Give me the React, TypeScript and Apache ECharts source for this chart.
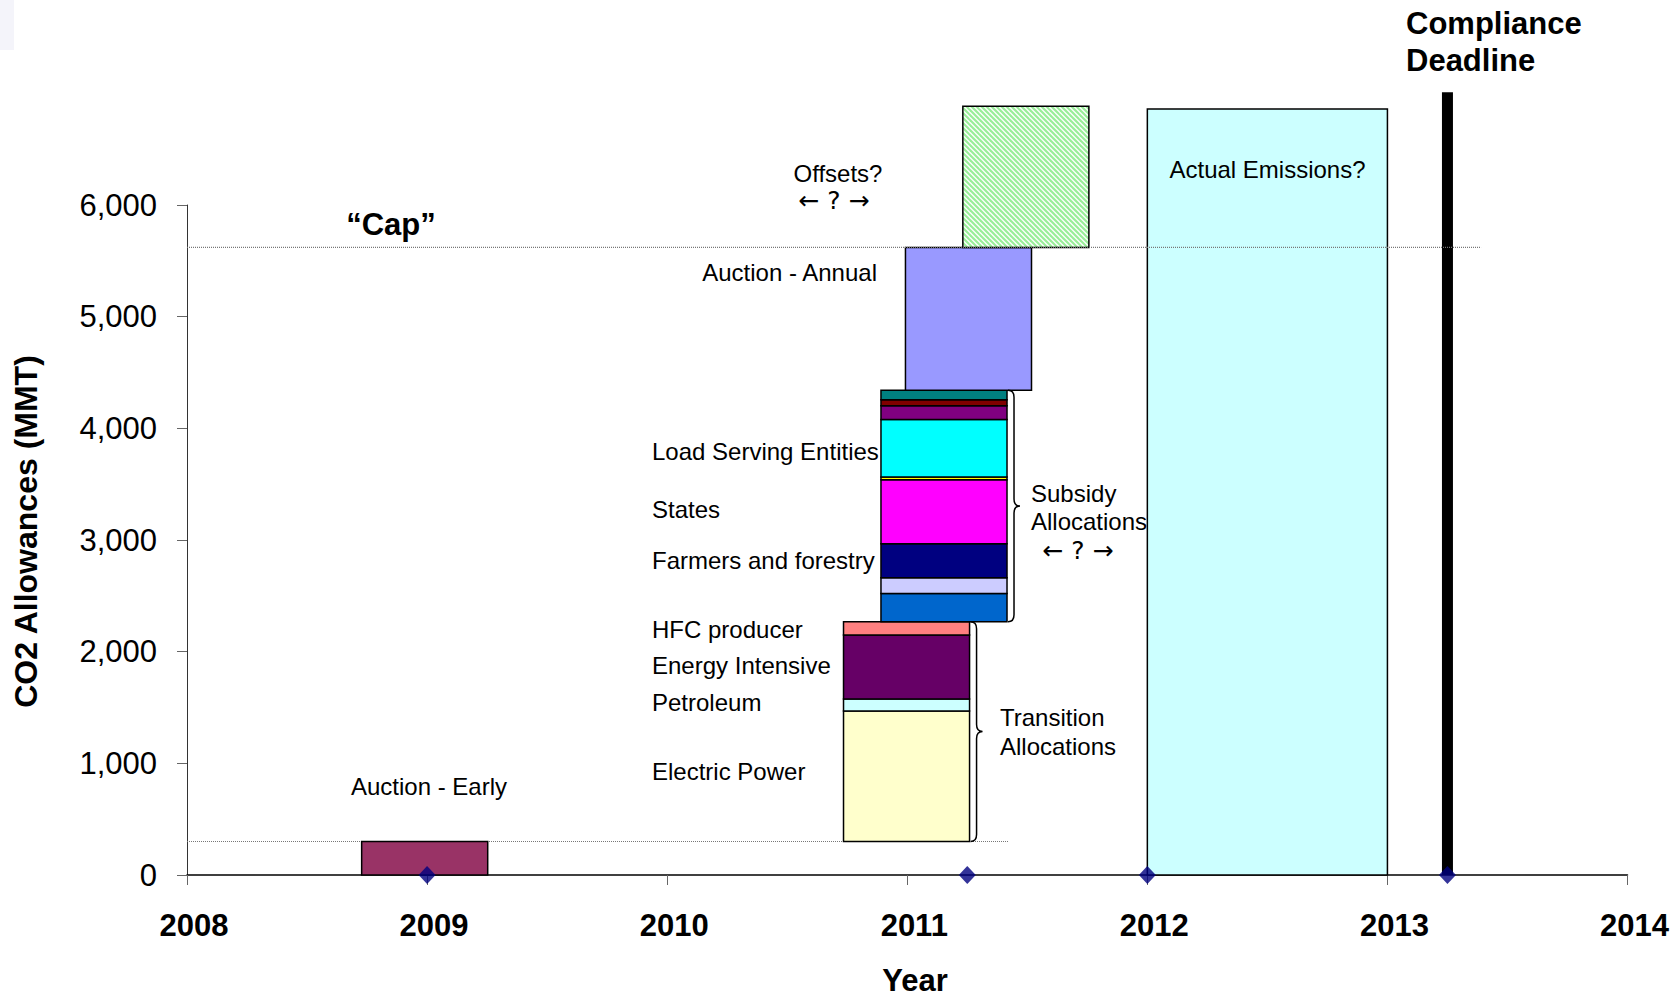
import React, { useEffect, useRef } from "react";
import * as echarts from "echarts";

// ---------- data ----------
const xTickYears = [2008, 2009, 2010, 2011, 2012, 2013, 2014];
const yTickValues = [0, 1000, 2000, 3000, 4000, 5000, 6000];

const capLevel = 5620;
const capLineExtent = [2008, 2013.39];
const earlyFloor = 300;
const earlyLineExtent = [2008, 2011.42];

const auctionEarlyCenter = 2008.99;
const auctionEarlyValue = 300;

const transitionCenter = 2010.997;
const transitionNames = ["Electric Power", "Petroleum", "Energy Intensive", "HFC producer"];
const transitionValues = [1168, 108, 573, 119];

const subsidyCenter = 2011.153;
const subsidyNames = [
  "Subsidy (blue)",
  "Subsidy (lavender)",
  "Farmers and forestry",
  "States",
  "Subsidy (yellow)",
  "Load Serving Entities",
  "Subsidy (purple)",
  "Subsidy (maroon)",
  "Subsidy (teal)",
];
const subsidyValues = [252, 142, 305, 573, 24, 516, 123, 53, 84];

const annualCenter = 2011.255;
const offsetsCenter = 2011.494;
const offsetsValue = 1265;

const emissionsRange = [2012, 2013];
const emissionsValue = 6860;

const deadlineYear = 2013.25;
const deadlineTop = 7010;

const markerYears = [2009, 2011.25, 2012, 2013.25];

// ---------- styles ----------
const BLOCK_WIDTH_YEARS = 0.525;
const transitionColors = ["#FFFFCC", "#CCFFFF", "#660066", "#FF8080"];
const subsidyColors = ["#0066CC", "#CCCCFF", "#000080", "#FF00FF", "#FFFF00", "#00FFFF", "#800080", "#800000", "#008080"];
const FONT = "'Liberation Sans', Arial, 'DejaVu Sans', sans-serif";
const ARROW_FONT = "'DejaVu Sans', 'Liberation Sans', sans-serif";

export default function App() {
  const ref = useRef<HTMLDivElement>(null);

  useEffect(() => {
    if (!ref.current) return;
    const chart = echarts.init(ref.current, undefined, { renderer: "svg" });

    // hatch pattern for offsets
    const cv = document.createElement("canvas");
    cv.width = 10;
    cv.height = 10;
    const g = cv.getContext("2d")!;
    g.fillStyle = "#ffffff";
    g.fillRect(0, 0, 10, 10);
    g.strokeStyle = "#99ee99";
    g.lineWidth = 2.2;
    for (let k = -10; k <= 10; k += 5) {
      g.beginPath();
      g.moveTo(-2, -2 + k);
      g.lineTo(12, 12 + k);
      g.stroke();
    }
    const hatch = { image: cv, repeat: "repeat", imageWidth: 10, imageHeight: 10 };

    const hw = BLOCK_WIDTH_YEARS / 2;
    const blocks: { name: string; value: number[] }[] = [];
    const fills: any[] = [];
    const add = (name: string, c: number, y0: number, y1: number, fill: any, x0?: number, x1?: number) => {
      blocks.push({ name, value: [x0 ?? c - hw, x1 ?? c + hw, y0, y1] });
      fills.push(fill);
    };

    add("Auction - Early", auctionEarlyCenter, 0, auctionEarlyValue, "#993366");
    let base = earlyFloor;
    transitionValues.forEach((v, i) => {
      add(transitionNames[i], transitionCenter, base, base + v, transitionColors[i]);
      base += v;
    });
    const transitionTop = base;
    subsidyValues.forEach((v, i) => {
      add(subsidyNames[i], subsidyCenter, base, base + v, subsidyColors[i]);
      base += v;
    });
    const subsidyTop = base;
    add("Auction - Annual", annualCenter, subsidyTop, capLevel, "#9999FF");
    add("Offsets", offsetsCenter, capLevel, capLevel + offsetsValue, hatch);
    add("Actual Emissions", 0, 0, emissionsValue, "#CCFFFF", emissionsRange[0], emissionsRange[1]);

    const braces = [
      [transitionCenter + hw, earlyFloor, transitionTop],
      [subsidyCenter + hw, transitionTop, subsidyTop],
    ];

    const txt = (
      text: string,
      x: number,
      y: number,
      align: string,
      size = 24,
      bold = false,
      rotation = 0,
      family = FONT
    ) => ({
      type: "text",
      x,
      y,
      z: 100,
      rotation,
      silent: true,
      style: {
        text,
        x: 0,
        y: 0,
        fill: "#000",
        fontSize: size,
        fontFamily: family,
        fontWeight: bold ? "bold" : "normal",
        align,
        textAlign: align,
        verticalAlign: "middle",
        textVerticalAlign: "middle",
      },
    });

    const option: any = {
      animation: false,
      backgroundColor: "#ffffff",
      textStyle: { fontFamily: FONT },
      grid: { left: 187, right: 44, top: 205, bottom: 123 },
      xAxis: {
        type: "value",
        min: xTickYears[0],
        max: xTickYears[xTickYears.length - 1],
        interval: 1,
        splitLine: { show: false },
        axisLine: { show: true, lineStyle: { color: "#000", width: 1.5 } },
        axisTick: { show: true, length: 10, lineStyle: { color: "#666", width: 1 } },
        axisLabel: {
          fontSize: 31,
          fontWeight: "bold",
          color: "#000",
          margin: 35,
          padding: [0, 0, 0, 14],
          formatter: (v: number) => String(v),
        },
      },
      yAxis: {
        type: "value",
        min: yTickValues[0],
        max: yTickValues[yTickValues.length - 1],
        interval: 1000,
        splitLine: { show: false },
        axisLine: { show: true, lineStyle: { color: "#333", width: 1 } },
        axisTick: { show: true, length: 10, lineStyle: { color: "#666", width: 1 } },
        axisLabel: {
          fontSize: 31,
          color: "#000",
          margin: 30,
          padding: [7, 0, 0, 0],
          formatter: (v: number) => v.toLocaleString("en-US"),
        },
      },
      series: [
        {
          type: "line",
          name: "Early floor",
          data: [
            [earlyLineExtent[0], earlyFloor],
            [earlyLineExtent[1], earlyFloor],
          ],
          symbol: "none",
          lineStyle: { color: "#777", width: 1.2, type: [1, 1] },
          z: 1,
          silent: true,
        },
        {
          type: "custom",
          name: "Allocations",
          clip: false,
          z: 3,
          data: blocks,
          renderItem: (params: any, api: any) => {
            const p0 = api.coord([api.value(0), api.value(2)]);
            const p1 = api.coord([api.value(1), api.value(3)]);
            return {
              type: "rect",
              shape: { x: p0[0], y: p1[1], width: p1[0] - p0[0], height: p0[1] - p1[1] },
              style: { fill: fills[params.dataIndex], stroke: "#000", lineWidth: 1.5 },
            };
          },
        },
        {
          type: "custom",
          name: "Compliance Deadline",
          clip: false,
          z: 4,
          data: [[deadlineYear, 0, deadlineTop]],
          renderItem: (params: any, api: any) => {
            const pb = api.coord([api.value(0), api.value(1)]);
            const pt = api.coord([api.value(0), api.value(2)]);
            return {
              type: "rect",
              shape: { x: pb[0] - 5.5, y: pt[1], width: 11, height: pb[1] - pt[1] },
              style: { fill: "#000" },
            };
          },
        },
        {
          type: "custom",
          name: "Braces",
          clip: false,
          z: 4,
          data: braces,
          renderItem: (params: any, api: any) => {
            const pb = api.coord([api.value(0), api.value(1)]);
            const pt = api.coord([api.value(0), api.value(2)]);
            const x = pb[0] + 1;
            const yt = pt[1];
            const yb = pb[1];
            const ym = (yt + yb) / 2;
            const w = 12;
            const r = 7;
            const xm = x + w / 2;
            const d = `M${x} ${yt} Q${xm} ${yt} ${xm} ${yt + r} L${xm} ${ym - r} Q${xm} ${ym} ${x + w} ${ym} Q${xm} ${ym} ${xm} ${ym + r} L${xm} ${yb - r} Q${xm} ${yb} ${x} ${yb}`;
            return {
              type: "path",
              shape: { pathData: d },
              style: { fill: "none", stroke: "#000", lineWidth: 1.5 },
            };
          },
        },
        {
          type: "line",
          name: "Cap",
          data: [
            [capLineExtent[0], capLevel],
            [capLineExtent[1], capLevel],
          ],
          symbol: "none",
          lineStyle: { color: "#777", width: 1.2, type: [1, 1] },
          z: 6,
          silent: true,
        },
        {
          type: "scatter",
          name: "Markers",
          clip: false,
          data: markerYears.map((y) => [y, 0]),
          symbol: "diamond",
          symbolSize: [17, 18],
          itemStyle: { color: "#000080" },
          z: 7,
        },
      ],
      graphic: [
        { type: "rect", z: 100, shape: { x: 0, y: 0, width: 14, height: 50 }, style: { fill: "#f4f4fa" }, silent: true },
        txt("“Cap”", 391, 224, "center", 31, true),
        txt("Offsets?", 838, 173, "center"),
        txt("← ? →", 834, 200, "center", 25, false, 0, ARROW_FONT),
        txt("Auction - Annual", 877, 272.5, "right"),
        txt("Load Serving Entities", 652, 451, "left"),
        txt("States", 652, 509.5, "left"),
        txt("Farmers and forestry", 652, 560, "left"),
        txt("HFC producer", 652, 629, "left"),
        txt("Energy Intensive", 652, 665.7, "left"),
        txt("Petroleum", 652, 702.5, "left"),
        txt("Electric Power", 652, 771.7, "left"),
        txt("Auction - Early", 429, 786, "center"),
        txt("Subsidy", 1031, 493, "left"),
        txt("Allocations", 1031, 521.7, "left"),
        txt("← ? →", 1078, 550, "center", 25, false, 0, ARROW_FONT),
        txt("Transition", 1000, 717.7, "left"),
        txt("Allocations", 1000, 746.7, "left"),
        txt("Actual Emissions?", 1267.5, 169.5, "center"),
        txt("Compliance", 1406, 23, "left", 31, true),
        txt("Deadline", 1406, 60.5, "left", 31, true),
        txt("Year", 915, 980, "center", 31, true),
        txt("CO2 Allowances (MMT)", 26, 531.5, "center", 32, true, Math.PI / 2),
      ],
    };

    chart.setOption(option);
    return () => chart.dispose();
  }, []);

  return (
    <div
      ref={ref}
      style={{ position: "fixed", left: 0, top: 0, width: 1672, height: 998, background: "#fff" }}
    />
  );
}
